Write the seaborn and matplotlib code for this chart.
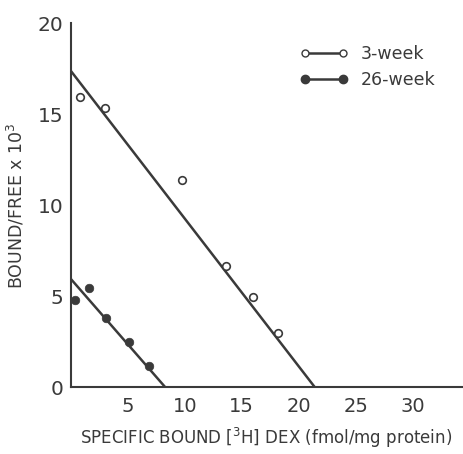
import matplotlib
matplotlib.use("Agg")
import matplotlib.pyplot as plt
import seaborn as sns
import pandas as pd
from matplotlib.lines import Line2D

# Data
wk3_x = [0.8, 3.0, 9.8, 13.6, 16.0, 18.2]
wk3_y = [15.95, 15.35, 11.4, 6.65, 4.96, 2.98]
wk26_x = [0.38, 1.6, 3.1, 5.1, 6.9]
wk26_y = [4.82, 5.44, 3.83, 2.46, 1.15]
# regression lines (endpoints: intercepts on axes)
wk3_line_x = [0.0, 21.4]
wk3_line_y = [17.4, 0.0]
wk26_line_x = [0.0, 8.3]
wk26_line_y = [5.97, 0.0]
x_ticks = [5, 10, 15, 20, 25, 30]
y_ticks = [0, 5, 10, 15, 20]
series_labels = ["3-week", "26-week"]

sns.set_style("white")
plt.rcParams['font.family'] = ['DejaVu Sans']

col = "#3a3a3a"
fig = plt.figure(figsize=(4.64, 4.54), dpi=100)
ax = fig.add_axes([0.152, 0.147, 0.844, 0.802])

pts3 = pd.DataFrame({"x": wk3_x, "y": wk3_y})
pts26 = pd.DataFrame({"x": wk26_x, "y": wk26_y})
ln3 = pd.DataFrame({"x": wk3_line_x, "y": wk3_line_y})
ln26 = pd.DataFrame({"x": wk26_line_x, "y": wk26_line_y})

sns.lineplot(data=ln3, x="x", y="y", ax=ax, color=col, lw=1.8)
sns.lineplot(data=ln26, x="x", y="y", ax=ax, color=col, lw=1.8)
sns.scatterplot(data=pts3, x="x", y="y", ax=ax, s=30, facecolor="white",
                edgecolor=col, linewidth=1.2, zorder=3)
sns.scatterplot(data=pts26, x="x", y="y", ax=ax, s=38, color=col,
                edgecolor=col, linewidth=0.5, zorder=3)

ax.set_xlim(0, 34.3)
ax.set_ylim(0, 20)
ax.set_xticks(x_ticks)
ax.set_yticks(y_ticks)
ax.tick_params(direction="in", length=7, width=1.2, color=col, labelcolor=col,
               pad=6)
ax.tick_params(axis="y", labelsize=14.5, length=8, pad=5)
ax.tick_params(axis="x", labelsize=14, pad=7)
for s in ["top", "right"]:
    ax.spines[s].set_visible(False)
for s in ["left", "bottom"]:
    ax.spines[s].set_color(col)
    ax.spines[s].set_linewidth(1.5)

ax.set_xlabel(r"SPECIFIC BOUND $\left[^{3}\mathrm{H}\right]$ DEX (fmol/mg protein)",
              fontsize=12, color=col, labelpad=7)
ax.set_ylabel(r"BOUND/FREE x 10$^3$", fontsize=12.5, color=col, labelpad=8)

handles = [
    Line2D([0], [0], color=col, lw=1.8, marker="o", markersize=5,
           markerfacecolor="white", markeredgecolor=col),
    Line2D([0], [0], color=col, lw=1.8, marker="o", markersize=6,
           markerfacecolor=col, markeredgecolor=col),
]
leg = ax.legend(handles, series_labels, loc="upper left", numpoints=2,
                frameon=False, fontsize=12.5, handlelength=2.8,
                bbox_to_anchor=(0.585, 0.94), borderaxespad=0, borderpad=0,
                labelspacing=0.45, handletextpad=0.7)
for t in leg.get_texts():
    t.set_color(col)

fig.savefig("out.png", dpi=100)
